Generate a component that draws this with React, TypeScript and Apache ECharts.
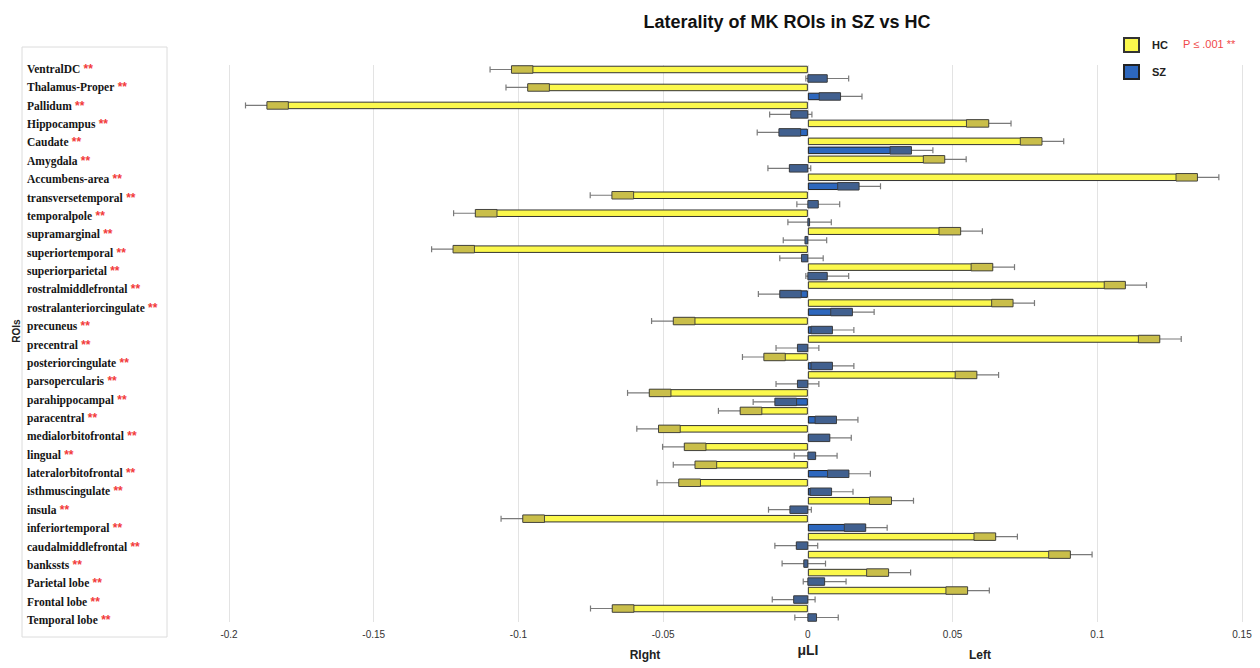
import React, { useEffect, useRef } from "react";
import * as echarts from "echarts";

const rois = [
  "VentralDC", "Thalamus-Proper", "Pallidum", "Hippocampus", "Caudate", "Amygdala",
  "Accumbens-area", "transversetemporal", "temporalpole", "supramarginal",
  "superiortemporal", "superiorparietal", "rostralmiddlefrontal",
  "rostralanteriorcingulate", "precuneus", "precentral", "posteriorcingulate",
  "parsopercularis", "parahippocampal", "paracentral", "medialorbitofrontal",
  "lingual", "lateralorbitofrontal", "isthmuscingulate", "insula",
  "inferiortemporal", "caudalmiddlefrontal", "bankssts", "Parietal lobe",
  "Frontal lobe", "Temporal lobe",
];

const hcValues = [
  -0.1024, -0.0968, -0.1869, 0.0625, 0.0809, 0.0473, 0.1346, -0.0677, -0.1149, 0.0528,
  -0.1226, 0.0639, 0.1097, 0.0709, -0.0465, 0.1216, -0.0152, 0.0584, -0.0548, -0.0234,
  -0.0516, -0.0427, -0.039, -0.0446, 0.0289, -0.0985, 0.0649, 0.0907, 0.0279, 0.0552,
  -0.0676,
];

const szValues = [
  0.0067, 0.0113, -0.0059, -0.01, 0.0358, -0.0064, 0.0177, 0.0036, 0.0006, -0.001,
  -0.0022, 0.0067, -0.0097, 0.0154, 0.0085, -0.0036, 0.0085, -0.0036, -0.0114, 0.0099,
  0.0076, 0.0027, 0.0142, 0.0082, -0.0062, 0.02, -0.004, -0.0014, 0.0058, -0.0049,
  0.003,
];

const hcErrors = [
  0.0074, 0.0075, 0.0074, 0.0077, 0.0075, 0.0074, 0.0074, 0.0075, 0.0075, 0.0075,
  0.0074, 0.0075, 0.0073, 0.0074, 0.0075, 0.0074, 0.0074, 0.0075, 0.0075, 0.0075,
  0.0075, 0.0075, 0.0075, 0.0075, 0.0076, 0.0075, 0.0075, 0.0075, 0.0076, 0.0075,
  0.0075,
];

const szErrors = [
  0.0074, 0.0074, 0.0073, 0.0075, 0.0074, 0.0074, 0.0074, 0.0074, 0.0075, 0.0075,
  0.0075, 0.0074, 0.0074, 0.0075, 0.0074, 0.0074, 0.0074, 0.0074, 0.0075, 0.0074,
  0.0074, 0.0074, 0.0074, 0.0074, 0.0074, 0.0074, 0.0074, 0.0075, 0.0074, 0.0074,
  0.0075,
];

const xTicks = { min: -0.2, max: 0.15, interval: 0.05 };

const HC_COLOR = "#fbf84c";
const HC_DARK = "#c9be4a";
const SZ_COLOR = "#2d67bd";
const SZ_DARK = "#41608f";
const BAR_W = 7.5;

function whiskerSeries(values: number[], errors: number[], dir: number) {
  return {
    type: "custom",
    xAxisIndex: 0,
    yAxisIndex: 0,
    z: 1,
    silent: true,
    encode: { x: 0, y: 1 },
    data: values.map((v, i) => [v, i, errors[i]]),
    renderItem: (params: any, api: any) => {
      const v = api.value(0);
      const idx = api.value(1);
      const e = api.value(2);
      const c = api.coord([v, idx]);
      const band = api.size([0, 1])[1];
      const y = c[1] + dir * band * 0.25;
      const x1 = api.coord([v - e, idx])[0];
      const x2 = api.coord([v + e, idx])[0];
      const st = { stroke: "#7a7a7a", lineWidth: 1.2 };
      return {
        type: "group",
        children: [
          { type: "line", shape: { x1, y1: y, x2, y2: y }, style: st },
          { type: "line", shape: { x1, y1: y - 3, x2: x1, y2: y + 3 }, style: st },
          { type: "line", shape: { x1: x2, y1: y - 3, x2, y2: y + 3 }, style: st },
        ],
      };
    },
  };
}

function overlaySeries(values: number[], errors: number[], dir: number, fill: string) {
  return {
    type: "custom",
    xAxisIndex: 0,
    yAxisIndex: 0,
    z: 3,
    silent: true,
    encode: { x: 0, y: 1 },
    data: values.map((v, i) => [v, i, errors[i]]),
    renderItem: (params: any, api: any) => {
      const v = api.value(0);
      const idx = api.value(1);
      const e = api.value(2);
      const inner = v - Math.sign(v) * Math.min(e, Math.abs(v));
      const c = api.coord([v, idx]);
      const band = api.size([0, 1])[1];
      const y = c[1] + dir * band * 0.25;
      const xa = c[0];
      const xb = api.coord([inner, idx])[0];
      return {
        type: "rect",
        shape: { x: Math.min(xa, xb), y: y - BAR_W / 2, width: Math.abs(xa - xb), height: BAR_W },
        style: { fill, stroke: "#3a3a3a", lineWidth: 0.9 },
      };
    },
  };
}

export default function App() {
  const ref = useRef<HTMLDivElement>(null);

  useEffect(() => {
    if (!ref.current) return;
    const chart = echarts.init(ref.current, null, { renderer: "svg" });
    const option: any = {
      animation: false,
      backgroundColor: "#ffffff",
      title: {
        text: "Laterality of MK ROIs in SZ vs HC",
        left: 782,
        textAlign: "center",
        top: 8,
        textStyle: { fontFamily: "Liberation Sans", fontWeight: "bold", fontSize: 18, color: "#111" },
      },
      legend: {
        data: ["HC", "SZ"],
        orient: "vertical",
        left: 1118,
        top: 32,
        itemWidth: 15,
        itemHeight: 14,
        itemGap: 11,
        selectedMode: false,
        icon: "rect",
        textStyle: {
          fontFamily: "Liberation Sans",
          fontWeight: "bold",
          fontSize: 11,
          color: "#222",
          padding: [0, 0, 0, 8],
        },
      },
      grid: [
        { left: 229, right: 18, top: 65, bottom: 46 },
        { left: 27, width: 130, top: 59.8, bottom: 38.8 },
      ],
      xAxis: [
        {
          gridIndex: 0,
          type: "value",
          min: xTicks.min,
          max: xTicks.max,
          interval: xTicks.interval,
          axisLine: { show: false },
          axisTick: { show: false },
          splitLine: { show: true, lineStyle: { color: "#e3e3e3", width: 1 } },
          axisLabel: { fontFamily: "Liberation Sans", fontSize: 10, color: "#333", margin: 7 },
        },
        { gridIndex: 1, type: "value", show: false, min: 0, max: 1 },
      ],
      yAxis: [
        {
          gridIndex: 0,
          type: "category",
          data: rois,
          inverse: true,
          axisLine: { show: false },
          axisTick: { show: false },
          axisLabel: { show: false },
          splitLine: { show: false },
        },
        {
          gridIndex: 1,
          type: "category",
          data: rois,
          inverse: true,
          axisLine: { show: false },
          axisTick: { show: false },
          splitLine: { show: false },
          axisLabel: {
            interval: 0,
            align: "left",
            margin: 0,
            formatter: (v: string) => `{n|${v}} {s|**}`,
            rich: {
              n: { fontFamily: "Liberation Serif", fontWeight: "bold", fontSize: 11.5, color: "#151515" },
              s: { fontFamily: "Liberation Sans", fontWeight: "bold", fontSize: 12, color: "#f23a3a" },
            },
          },
        },
      ],
      series: [
        whiskerSeries(hcValues, hcErrors, -1),
        whiskerSeries(szValues, szErrors, 1),
        {
          name: "HC",
          type: "bar",
          xAxisIndex: 0,
          yAxisIndex: 0,
          z: 2,
          data: hcValues,
          barWidth: BAR_W,
          barGap: "20%",
          itemStyle: { color: HC_COLOR, borderColor: "#333", borderWidth: 1 },
        },
        {
          name: "SZ",
          type: "bar",
          xAxisIndex: 0,
          yAxisIndex: 0,
          z: 2,
          data: szValues,
          barWidth: BAR_W,
          barGap: "20%",
          itemStyle: { color: SZ_COLOR, borderColor: "#222", borderWidth: 1 },
        },
        overlaySeries(hcValues, hcErrors, -1, HC_DARK),
        overlaySeries(szValues, szErrors, 1, SZ_DARK),
      ],
      graphic: [
        {
          type: "rect",
          z: 0,
          shape: { x: 22, y: 47, width: 145, height: 590 },
          style: { fill: "none", stroke: "#dcdcdc", lineWidth: 1 },
        },
        {
          type: "text",
          x: 16,
          y: 331,
          rotation: Math.PI / 2,
          style: {
            text: "ROIs",
            align: "center",
            verticalAlign: "middle",
            font: "bold 10px 'Liberation Sans'",
            fill: "#222",
          },
        },
        {
          type: "text",
          x: 1183,
          y: 44,
          style: {
            text: "P ≤ .001 **",
            align: "left",
            verticalAlign: "middle",
            font: "11px 'Liberation Sans'",
            fill: "#f04848",
          },
        },
        {
          type: "text",
          x: 645,
          y: 655,
          style: { text: "RIght", align: "center", verticalAlign: "middle", font: "bold 12px 'Liberation Sans'", fill: "#222" },
        },
        {
          type: "text",
          x: 808,
          y: 650,
          style: { text: "μLI", align: "center", verticalAlign: "middle", font: "bold 14px 'Liberation Sans'", fill: "#222" },
        },
        {
          type: "text",
          x: 980,
          y: 655,
          style: { text: "Left", align: "center", verticalAlign: "middle", font: "bold 12px 'Liberation Sans'", fill: "#222" },
        },
      ],
    };
    chart.setOption(option);
    return () => chart.dispose();
  }, []);

  return (
    <div
      ref={ref}
      style={{ position: "fixed", left: 0, top: 0, width: 1260, height: 668, background: "#fff" }}
    />
  );
}
